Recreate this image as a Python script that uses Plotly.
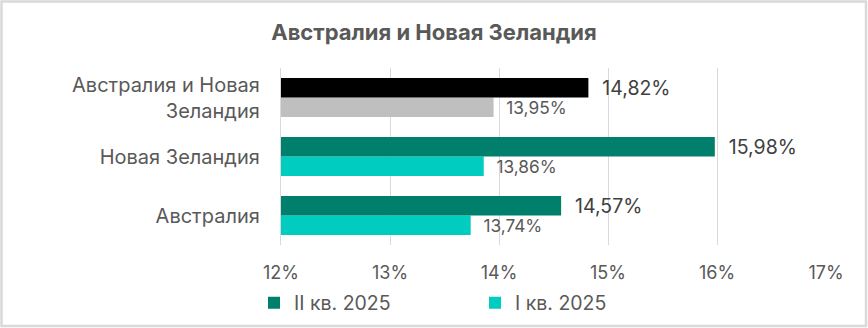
import plotly.graph_objects as go

categories = ["Австралия", "Новая Зеландия", "Австралия и Новая<br>Зеландия"]
q2_values = [14.57, 15.98, 14.82]
q1_values = [13.74, 13.86, 13.95]
series_names = ["II кв. 2025", "I кв. 2025"]
tick_values = [12, 13, 14, 15, 16, 17]
tick_labels = ["12%", "13%", "14%", "15%", "16%", "17%"]

q2_colors = ["#00806C", "#00806C", "#000000"]
q1_colors = ["#00CCBF", "#00CCBF", "#BFBFBF"]

def fmt(v):
    return "\u00a0\u00a0" + f"{v:.2f}".replace(".", ",") + "%"

FONT = "Inter"
W, H = 868, 328
L, R, T, B = 281, 42, 68, 83
pw, ph = W - L - R, H - T - B

fig = go.Figure()
fig.add_trace(go.Bar(
    y=categories, x=q1_values, orientation="h", name=series_names[1],
    marker=dict(color=q1_colors, line=dict(width=0)),
    text=[fmt(v) for v in q1_values], textposition="outside", constraintext="none",
    outsidetextfont=dict(family=FONT, size=17.3, color="#595959"),
    cliponaxis=False, legendrank=2,
))
fig.add_trace(go.Bar(
    y=categories, x=q2_values, orientation="h", name=series_names[0],
    marker=dict(color=q2_colors, line=dict(width=0)),
    text=[fmt(v) for v in q2_values], textposition="outside", constraintext="none",
    outsidetextfont=dict(family=FONT, size=19.5, color="#404040"),
    cliponaxis=False, legendrank=1,
))

# border
fig.add_shape(type="rect", xref="paper", yref="paper",
              x0=(1.5 - L) / pw, x1=(866 - L) / pw,
              y0=(H - B - 326) / ph, y1=(H - B - 1.5) / ph,
              line=dict(color="#D9D9D9", width=2.5), fillcolor="rgba(0,0,0,0)", layer="below")

fig.update_layout(
    width=W, height=H,
    margin=dict(l=L, r=R, t=T, b=B, pad=0, autoexpand=False),
    paper_bgcolor="white", plot_bgcolor="white",
    barmode="group", bargap=0.34, bargroupgap=0,
    title=dict(text="<b>Австралия и Новая Зеландия</b>", x=0.5, xanchor="center",
               y=1 - 32 / H, yanchor="middle", yref="container",
               font=dict(family=FONT, size=22, color="#595959")),
    font=dict(family=FONT, color="#595959"),
    xaxis=dict(range=[12, 17], tickvals=tick_values, ticktext=tick_labels,
               showgrid=True, gridcolor="#D9D9D9", gridwidth=1.3, zeroline=False,
               showline=False, ticks="", tickfont=dict(family=FONT, size=18, color="#595959"),
               ticklabelstandoff=15, automargin=False),
    yaxis=dict(showgrid=False, showline=True, linecolor="#D9D9D9", linewidth=1.3,
               ticks="", tickfont=dict(family=FONT, size=20, color="#595959"),
               ticklabelstandoff=16, automargin=False),
    showlegend=True,
    legend=dict(orientation="h", x=(254 - L) / pw, xanchor="left",
                y=-(303 - (H - B)) / ph, yanchor="middle",
                entrywidth=176, entrywidthmode="pixels", itemwidth=30,
                font=dict(family=FONT, size=19.5, color="#595959"),
                bgcolor="rgba(0,0,0,0)"),
)

fig.write_html("out.html")
